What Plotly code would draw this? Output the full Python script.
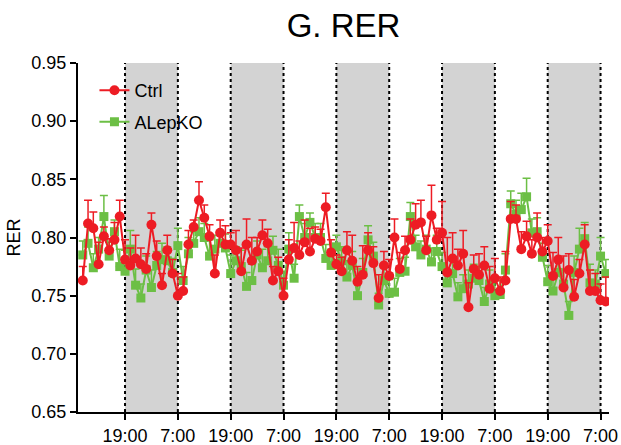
import plotly.graph_objects as go

# sample index (72-min bins), ticks every 10 bins
idx = list(range(100))
tick_idx = [8, 18, 28, 38, 48, 58, 68, 78, 88, 98]
tick_text = ["19:00", "7:00"] * 5
dark_start = [8, 28, 48, 68, 88]
dark_end = [18, 38, 58, 78, 98]

ctrl = [0.763, 0.812, 0.808, 0.777, 0.801, 0.789, 0.798, 0.818, 0.781, 0.776,
        0.782, 0.777, 0.773, 0.811, 0.784, 0.759, 0.789, 0.769, 0.750, 0.754,
        0.794, 0.809, 0.832, 0.817, 0.801, 0.769, 0.804, 0.794, 0.794, 0.789,
        0.771, 0.794, 0.780, 0.788, 0.802, 0.795, 0.763, 0.771, 0.750, 0.781,
        0.791, 0.785, 0.796, 0.788, 0.799, 0.797, 0.826, 0.787, 0.777, 0.771,
        0.789, 0.780, 0.762, 0.768, 0.789, 0.778, 0.748, 0.776, 0.767, 0.800,
        0.773, 0.789, 0.798, 0.811, 0.813, 0.789, 0.819, 0.798, 0.804, 0.770,
        0.782, 0.776, 0.786, 0.740, 0.773, 0.768, 0.776, 0.756, 0.765, 0.754,
        0.763, 0.816, 0.816, 0.790, 0.801, 0.786, 0.800, 0.788, 0.797, 0.767,
        0.781, 0.757, 0.772, 0.749, 0.769, 0.794, 0.754, 0.754, 0.746, 0.745]
ctrl_err = [0.012, 0.020, 0.014, 0.019, 0.008, 0.010, 0.015, 0.014, 0.017, 0.015,
            0.020, 0.014, 0.013, 0.010, 0.013, 0.010, 0.013, 0.012, 0.019, 0.012,
            0.012, 0.006, 0.016, 0.011, 0.010, 0.016, 0.011, 0.016, 0.010, 0.017,
            0.020, 0.022, 0.020, 0.012, 0.013, 0.012, 0.012, 0.012, 0.015, 0.017,
            0.022, 0.012, 0.019, 0.020, 0.010, 0.010, 0.012, 0.011, 0.008, 0.012,
            0.016, 0.022, 0.013, 0.025, 0.015, 0.014, 0.020, 0.012, 0.014, 0.016,
            0.014, 0.012, 0.018, 0.018, 0.019, 0.012, 0.026, 0.010, 0.027, 0.030,
            0.022, 0.014, 0.020, 0.021, 0.012, 0.018, 0.016, 0.019, 0.017, 0.012,
            0.025, 0.015, 0.012, 0.015, 0.013, 0.012, 0.021, 0.012, 0.014, 0.020,
            0.019, 0.027, 0.014, 0.015, 0.012, 0.017, 0.018, 0.015, 0.014, 0.021]

alepko = [0.785, 0.795, 0.774, 0.790, 0.818, 0.784, 0.805, 0.775, 0.771, 0.790,
          0.759, 0.748, 0.772, 0.757, 0.776, 0.781, 0.780, 0.770, 0.793, 0.763,
          0.786, 0.795, 0.805, 0.800, 0.784, 0.790, 0.795, 0.791, 0.769, 0.780,
          0.775, 0.758, 0.763, 0.785, 0.774, 0.780, 0.789, 0.776, 0.759, 0.790,
          0.765, 0.818, 0.800, 0.813, 0.800, 0.800, 0.782, 0.776, 0.792, 0.780,
          0.766, 0.776, 0.750, 0.770, 0.798, 0.784, 0.742, 0.763, 0.752, 0.753,
          0.770, 0.771, 0.818, 0.792, 0.785, 0.790, 0.779, 0.788, 0.775, 0.761,
          0.769, 0.749, 0.756, 0.760, 0.765, 0.763, 0.745, 0.760, 0.750, 0.751,
          0.772, 0.829, 0.820, 0.824, 0.835, 0.804, 0.805, 0.783, 0.762, 0.754,
          0.770, 0.760, 0.733, 0.770, 0.790, 0.799, 0.761, 0.760, 0.784, 0.769]
alepko_err = [0.012, 0.014, 0.012, 0.010, 0.018, 0.012, 0.010, 0.015, 0.018, 0.016,
              0.014, 0.012, 0.012, 0.015, 0.012, 0.014, 0.012, 0.012, 0.015, 0.012,
              0.014, 0.010, 0.012, 0.012, 0.014, 0.012, 0.010, 0.012, 0.016, 0.012,
              0.014, 0.012, 0.014, 0.012, 0.016, 0.012, 0.012, 0.014, 0.012, 0.014,
              0.012, 0.010, 0.012, 0.008, 0.012, 0.012, 0.012, 0.014, 0.010, 0.012,
              0.014, 0.012, 0.012, 0.012, 0.012, 0.012, 0.010, 0.014, 0.012, 0.012,
              0.012, 0.012, 0.012, 0.010, 0.012, 0.012, 0.012, 0.014, 0.012, 0.012,
              0.012, 0.012, 0.012, 0.012, 0.012, 0.012, 0.012, 0.012, 0.014, 0.012,
              0.014, 0.011, 0.012, 0.014, 0.016, 0.012, 0.012, 0.012, 0.014, 0.012,
              0.012, 0.012, 0.012, 0.014, 0.018, 0.014, 0.016, 0.012, 0.016, 0.012]

RED = "#ED1C24"
GREEN = "#6CBF45"
FONT = "Arial, Liberation Sans, sans-serif"

fig = go.Figure()

fig.add_trace(go.Scatter(
    x=idx, y=alepko, name="ALepKO", mode="lines+markers", legendgroup="b", legendrank=2,
    line=dict(color=GREEN, width=2),
    marker=dict(symbol="square", size=9, color=GREEN),
    error_y=dict(type="data", array=alepko_err, arrayminus=[0] * len(alepko_err),
                 symmetric=False, color=GREEN, thickness=1.5, width=4),
))
fig.add_trace(go.Scatter(
    x=idx, y=ctrl, name="Ctrl", mode="lines+markers", legendgroup="a", legendrank=1,
    line=dict(color=RED, width=2),
    marker=dict(symbol="circle", size=10, color=RED),
    error_y=dict(type="data", array=ctrl_err, arrayminus=[0] * len(ctrl_err),
                 symmetric=False, color=RED, thickness=1.5, width=4),
))

for s, e in zip(dark_start, dark_end):
    fig.add_shape(type="rect", xref="x", yref="y", x0=s, x1=e, y0=0.65, y1=0.95,
                  fillcolor="#D3D3D3", line=dict(width=0), layer="below")
    for xv in (s, e):
        fig.add_shape(type="line", xref="x", yref="y", x0=xv, x1=xv, y0=0.65, y1=0.95,
                      line=dict(color="black", width=2, dash="dot"), layer="below")

fig.update_layout(
    width=621, height=445,
    margin=dict(l=78, r=12, t=63, b=33),
    paper_bgcolor="white", plot_bgcolor="white",
    font=dict(family=FONT, size=18, color="black"),
    title=dict(text="G. RER", x=0.5, xref="paper", y=1 - 25 / 445, yref="container",
               yanchor="middle", font=dict(size=33, family=FONT)),
    showlegend=True,
    legend=dict(x=0.031, y=0.974, xanchor="left", yanchor="top",
                traceorder="grouped", tracegroupgap=5,
                bgcolor="rgba(0,0,0,0)", font=dict(size=18), itemsizing="trace"),
    xaxis=dict(range=[-0.9, 99.6], tickmode="array", tickvals=tick_idx, ticktext=tick_text,
               showline=True, linecolor="black", linewidth=2, ticks="outside", ticklen=6,
               tickwidth=2, tickcolor="black", showgrid=False, zeroline=False,
               automargin=False),
    yaxis=dict(range=[0.65, 0.95], tickmode="array",
               tickvals=[0.65, 0.70, 0.75, 0.80, 0.85, 0.90, 0.95], tickformat=".2f",
               showline=True, linecolor="black", linewidth=2, ticks="outside", ticklen=6,
               tickwidth=2, tickcolor="black", showgrid=False, zeroline=False,
               automargin=False,
               title=dict(text="RER", font=dict(size=18), standoff=6)),
)

fig.write_html("out.html")
